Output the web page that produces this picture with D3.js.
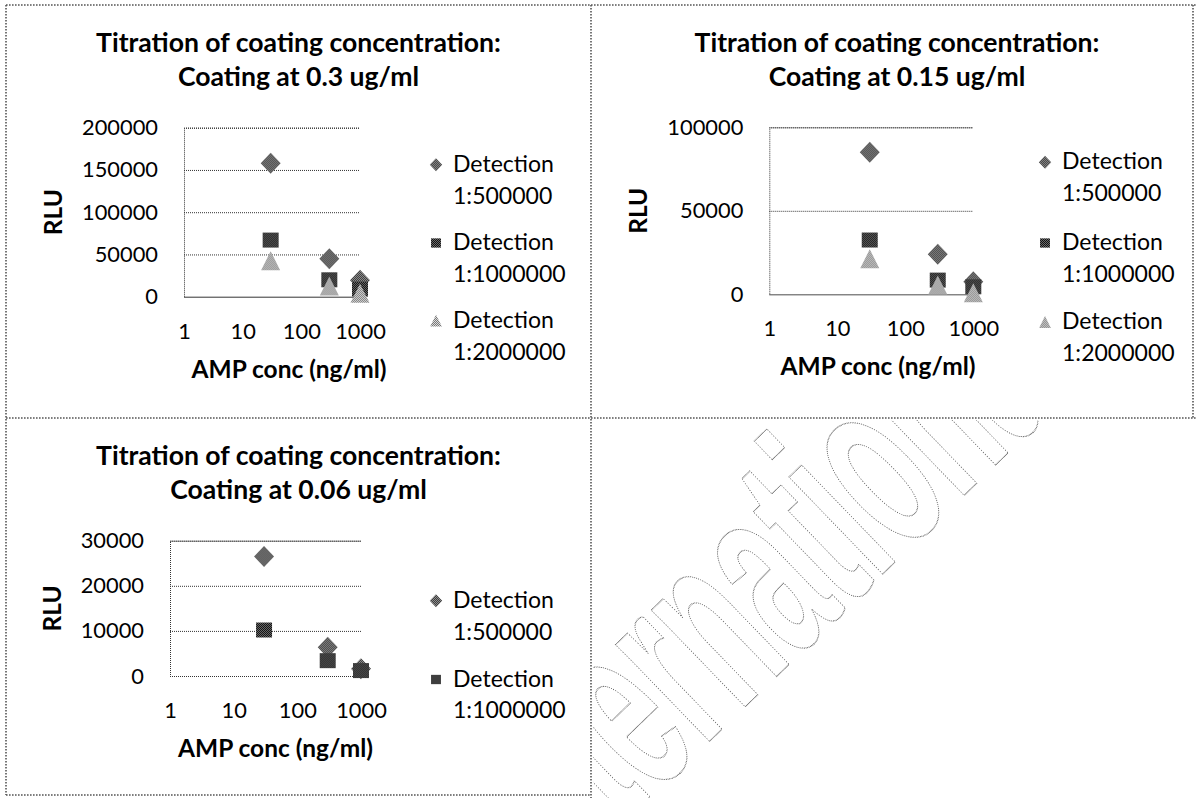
<!DOCTYPE html>
<html>
<head>
<meta charset="utf-8">
<title>Titration of coating concentration</title>
<script src="https://d3js.org/d3.v7.min.js"></script>
<style>
  body { margin: 0; background: #fff; }
  svg { display: block; }
</style>
</head>
<body>
<svg width="1196" height="798"></svg>
<script>
// ---- data ----
const concentrations = [30, 300, 1000];           // AMP conc (ng/ml)
const xTicks = [1, 10, 100, 1000];
const seriesNames = ["1:500000", "1:1000000", "1:2000000"];

// Coating at 0.3 ug/ml
const coat03_d500k = [158000, 45000, 19500];
const coat03_d1m   = [67000, 20000, 9000];
const coat03_d2m   = [42000, 12000, 3400];
const yTicks03 = [0, 50000, 100000, 150000, 200000];

// Coating at 0.15 ug/ml
const coat015_d500k = [85000, 24000, 7500];
const coat015_d1m   = [32500, 8500, 4500];
const coat015_d2m   = [21000, 5300, 700];
const yTicks015 = [0, 50000, 100000];

// Coating at 0.06 ug/ml
const coat006_d500k = [26500, 6400, 1600];
const coat006_d1m   = [10200, 3400, 1200];
const yTicks006 = [0, 10000, 20000, 30000];

const titleLine1 = "Titration of coating concentration:";
const subtitles = ["Coating at 0.3 ug/ml", "Coating at 0.15 ug/ml", "Coating at 0.06 ug/ml"];

// ---- layout ----
const panels = [
  { top: 5,   cx: 298.5, plot: [184, 360, 127.7, 296.7], ampX: 289, legX: 436,
    legY: [171.7, 250, 328], series: [coat03_d500k, coat03_d1m, coat03_d2m], yTicks: yTicks03, sub: subtitles[0] },
  { top: 5,   cx: 897,   plot: [769.3, 973.3, 127.3, 294.3], ampX: 878, legX: 1045,
    legY: [169.3, 250, 329.3], series: [coat015_d500k, coat015_d1m, coat015_d2m], yTicks: yTicks015, sub: subtitles[1] },
  { top: 418, cx: 298.5, plot: [170, 361, 540.7, 676], ampX: 275.5, legX: 436,
    legY: [607.8, 686.5], series: [coat006_d500k, coat006_d1m], yTicks: yTicks006, sub: subtitles[2] }
];

const font = "Lato, 'Open Sans', sans-serif";
const svg = d3.select("svg");

function fitSize(weight, sample, target) {
  const t = svg.append("text").attr("font-family", font).attr("font-weight", weight)
    .attr("font-size", 100).text(sample);
  const w = t.node().getComputedTextLength();
  t.remove();
  return 100 * target / w;
}
const titleSize = fitSize("bold", titleLine1, 405);
const axisTitleSize = fitSize("bold", "AMP conc (ng/ml)", 195);
const tickSize = fitSize("normal", "200000", 76);
const legendSize = fitSize("normal", "Detection", 101);

// dithered fills like the scanned Excel markers
const defs = svg.append("defs");
function checker(id, bg, fg) {
  const p = defs.append("pattern").attr("id", id).attr("patternUnits", "userSpaceOnUse")
    .attr("width", 2).attr("height", 2);
  p.append("rect").attr("width", 2).attr("height", 2).attr("fill", bg);
  p.append("rect").attr("width", 1).attr("height", 1).attr("fill", fg);
  p.append("rect").attr("x", 1).attr("y", 1).attr("width", 1).attr("height", 1).attr("fill", fg);
}
checker("patD", "#a8a8a8", "#222");
checker("patS", "#6a6a6a", "#111");
checker("patT", "#dcdcdc", "#777");
const fills = ["url(#patD)", "url(#patS)", "url(#patT)"];

// marker shapes
function markerPath(i, s) {
  if (i === 0) return `M0,${-10.5*s}L${10*s},0L0,${10.5*s}L${-10*s},0Z`;
  if (i === 1) return `M${-8*s},${-7.5*s}H${8*s}V${7.5*s}H${-8*s}Z`;
  return `M0,${-10*s}L${9.5*s},${9*s}H${-9.5*s}Z`;
}

// ---- frame ----
const frame = svg.append("g").attr("stroke", "#555").attr("stroke-width", 1.6)
  .attr("stroke-dasharray", "1.6,1.4").attr("fill", "none");
[[6, 5, 1196, 5], [6, 5, 6, 795], [591, 5, 591, 798], [6, 418, 1196, 418],
 [6, 795, 591, 795], [1193, 5, 1193, 418]].forEach(l =>
  frame.append("line").attr("x1", l[0]).attr("y1", l[1]).attr("x2", l[2]).attr("y2", l[3]));

// ---- watermark in the empty quadrant ----
svg.append("clipPath").attr("id", "wmClip").append("rect")
  .attr("x", 593).attr("y", 420).attr("width", 603).attr("height", 378);
svg.append("g").attr("clip-path", "url(#wmClip)")
  .append("text")
  .attr("transform", "translate(540,905) rotate(-44) scale(0.5,1)")
  .attr("font-family", "'Liberation Sans Narrow', 'Liberation Sans', sans-serif")
  .attr("font-weight", "bold").attr("font-size", 255)
  .attr("fill", "none").attr("stroke", "#555").attr("stroke-width", 1.3)
  .attr("stroke-dasharray", "1.3,1.5")
  .text("International Co");

// ---- panels ----
panels.forEach(p => {
  const [x0, x1, y0, y1] = p.plot;
  const g = svg.append("g");
  const x = d3.scaleLog().domain([1, 1000]).range([x0, x1]);
  const y = d3.scaleLinear().domain([0, d3.max(p.yTicks)]).range([y1, y0]);

  g.append("text").attr("x", p.cx).attr("y", p.top + 47).attr("text-anchor", "middle")
    .attr("font-family", font).attr("font-weight", "bold").attr("font-size", titleSize)
    .attr("fill", "#000").text(titleLine1);
  g.append("text").attr("x", p.cx).attr("y", p.top + 81).attr("text-anchor", "middle")
    .attr("font-family", font).attr("font-weight", "bold").attr("font-size", titleSize)
    .attr("fill", "#000").text(p.sub);

  // gridlines + axes
  const yAxis = g.append("g").attr("transform", `translate(${x0},0)`)
    .call(d3.axisLeft(y).tickValues(p.yTicks).tickSize(-(x1 - x0)).tickPadding(26).tickFormat(d3.format("d")));
  yAxis.select(".domain").attr("stroke", "#333").attr("stroke-dasharray", "1,1");
  yAxis.selectAll(".tick line").attr("stroke", "#333").attr("stroke-dasharray", "1,1");
  yAxis.selectAll(".tick text").attr("font-family", font).attr("font-size", tickSize).attr("fill", "#000");

  const xAxis = g.append("g").attr("transform", `translate(0,${y1})`)
    .call(d3.axisBottom(x).tickValues(xTicks).tickSize(0).tickPadding(0).tickFormat(d3.format("d")));
  xAxis.select(".domain").remove();
  xAxis.selectAll(".tick text").attr("font-family", font).attr("font-size", tickSize)
    .attr("fill", "#000").attr("dy", null).attr("y", 42);

  // axis titles
  let labelsLeft = x0 - 26 - 76 * String(d3.max(p.yTicks)).length / 6;
  g.append("text").attr("transform", `translate(${labelsLeft - 20},${(y0 + y1) / 2}) rotate(-90)`)
    .attr("text-anchor", "middle").attr("font-family", font).attr("font-weight", "bold")
    .attr("font-size", axisTitleSize).attr("fill", "#000").text("RLU");
  g.append("text").attr("x", p.ampX).attr("y", y1 + 81).attr("text-anchor", "middle")
    .attr("font-family", font).attr("font-weight", "bold").attr("font-size", axisTitleSize)
    .attr("fill", "#000").text("AMP conc (ng/ml)");

  // markers
  p.series.forEach((vals, i) => {
    g.append("g").selectAll("path").data(vals).join("path")
      .attr("transform", (d, k) => `translate(${x(concentrations[k])},${y(d)})`)
      .attr("d", markerPath(i, 1)).attr("fill", fills[i]);
  });

  // legend
  p.series.forEach((vals, i) => {
    const ly = p.legY[i];
    g.append("path").attr("transform", `translate(${p.legX},${ly - 7})`)
      .attr("d", markerPath(i, 0.62)).attr("fill", fills[i]);
    g.append("text").attr("x", p.legX + 17).attr("y", ly).attr("font-family", font)
      .attr("font-size", legendSize).attr("fill", "#000").text("Detection");
    g.append("text").attr("x", p.legX + 17).attr("y", ly + 31.8).attr("font-family", font)
      .attr("font-size", legendSize).attr("fill", "#000").text(seriesNames[i]);
  });
});
</script>
</body>
</html>
